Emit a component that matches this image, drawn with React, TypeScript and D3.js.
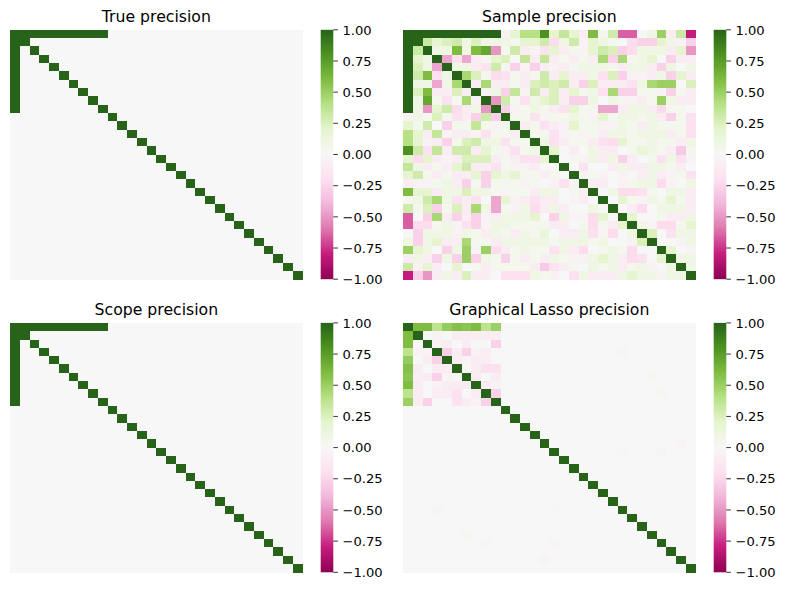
import React from "react";
import * as d3 from "d3";

const N = 30;

// matplotlib PiYG anchor colours, -1 .. 1
const PIYG = [
  "#8e0152", "#c51b7d", "#de77ae", "#f1b6da", "#fde0ef", "#f7f7f7",
  "#e6f5d0", "#b8e186", "#7fbc41", "#4d9221", "#276419",
];
const CBAR_TICKS = [-1, -0.75, -0.5, -0.25, 0, 0.25, 0.5, 0.75, 1];

// hub row (node 0 -> nodes 1..9)
const trueHub = [1, 1, 1, 1, 1, 1, 1, 1, 1];
const scopeHub = [1, 1, 1, 1, 1, 1, 1, 1, 1];
const lassoHub = [0.6, 0.6, 0.38, 0.52, 0.58, 0.55, 0.6, 0.38, 0.5];

// graphical lasso: lower triangle of the hub block, rows 2..9, cols 1..i-1
const lassoBlock = [
  [0],
  [-0.04, -0.04],
  [0, -0.1, -0.27],
  [-0.1, 0, -0.1, -0.1],
  [-0.1, -0.1, -0.27, -0.04, 0],
  [-0.1, 0, -0.04, -0.1, -0.1, -0.1],
  [-0.1, 0, -0.1, -0.1, -0.18, 0, -0.1],
  [-0.1, -0.27, 0, 0, -0.18, -0.1, -0.04, -0.27],
];
// graphical lasso: small leftover entries [row, col, value]
const lassoFaint: [number, number, number][] = [
  [3, 22, 0.03], [6, 25, 0.03], [8, 26, 0.03],
  [14, 28, -0.03], [15, 22, -0.02], [15, 26, -0.03],
];

// sample precision: lower triangle, rows 1..29, cols 0..i-1
const sampleLower = [
  [1],
  [1, 0.32],
  [1, 0.2, 0.1],
  [1, 0.25, 0.1, -0.45],
  [1, 0.3, 0.6, -0.18, 0.1],
  [1, 0.1, 0.1, -0.45, 0.1, 0.45],
  [1, 0.25, 0.6, -0.1, -0.1, 0.25, -0.1],
  [1, 0.1, 0.7, 0.05, -0.18, 0.05, 0.45, -0.04],
  [1, 0.1, -0.5, 0.2, 0.3, -0.22, -0.1, 0.1, -0.5],
  [-0.04, 0.1, 0.05, 0.25, 0.05, -0.18, -0.1, -0.27, 0.3, -0.27],
  [0.2, 0.05, 0.3, 0, -0.27, 0.05, 0.05, 0.35, 0.05, -0.04, 0.05],
  [0.4, 0.2, -0.1, 0.35, -0.04, -0.1, -0.1, -0.04, -0.18, 0.05, 0.05, -0.1],
  [0.4, 0.2, -0.04, -0.1, -0.27, 0.05, 0.25, 0.3, 0.1, 0.1, -0.18, 0.05, 0.05],
  [0.8, 0.3, -0.18, 0.35, -0.1, 0.3, 0.3, -0.1, 0.2, 0.05, -0.04, -0.18, 0.05, 0.1],
  [0.2, -0.22, 0.2, -0.1, -0.04, -0.1, 0.25, 0.25, 0.25, -0.1, 0.05, -0.1, -0.18, -0.18, 0.2],
  [0.35, 0.1, -0.1, 0.05, -0.1, 0.2, 0.3, -0.1, -0.1, -0.18, 0.05, -0.04, -0.04, -0.1, 0, 0],
  [0.2, 0.3, 0.05, -0.1, 0.05, -0.1, -0.1, 0.2, -0.27, 0.2, 0.1, 0.2, 0.05, 0.05, -0.1, 0.05, 0],
  [-0.1, -0.04, -0.04, 0.05, 0.1, -0.1, -0.27, 0.05, -0.27, 0.05, 0.05, 0.05, -0.04, 0.05, 0, -0.04, -0.18, -0.04],
  [0.6, 0.2, 0.2, -0.1, 0.1, 0.1, 0.25, 0.1, 0.1, 0.05, -0.04, 0.05, 0.05, -0.1, 0.1, 0.1, 0, 0.05, -0.1],
  [0.05, 0.1, 0.3, 0.45, 0.1, -0.18, -0.1, -0.18, 0, -0.45, 0.2, -0.04, -0.1, -0.18, -0.1, -0.1, 0, -0.04, -0.1, 0],
  [0.3, 0.05, 0.25, -0.27, 0.05, 0.25, -0.1, 0.45, 0.1, -0.45, 0.05, -0.04, 0.1, -0.22, -0.1, 0.1, -0.1, 0, 0, 0.1, 0],
  [-0.65, 0, -0.27, 0.45, -0.1, -0.27, -0.1, -0.27, -0.04, -0.1, 0.1, 0.1, 0.1, 0.2, 0, -0.27, 0.1, -0.04, -0.04, -0.22, 0.2, 0],
  [-0.65, -0.22, -0.22, 0.05, 0.1, -0.04, -0.18, -0.27, -0.04, 0.1, 0.1, 0.05, 0.05, 0.05, 0.05, -0.1, -0.1, 0, 0.05, -0.22, 0.05, -0.1, 0.2],
  [0, -0.27, 0.1, 0.1, 0.1, -0.04, 0.1, 0.05, -0.1, 0.1, 0.05, -0.1, 0.1, 0.05, 0.15, 0, -0.1, -0.1, 0.1, -0.18, -0.04, -0.22, 0, 0.1],
  [0.1, -0.27, 0.1, 0.2, -0.1, -0.1, 0.45, 0.05, 0.05, -0.1, 0.1, 0.1, 0.1, 0.1, 0.1, 0.05, 0.1, 0.1, 0.1, 0.05, 0.1, 0, 0, -0.04, 0.25],
  [0.5, 0.2, 0.1, 0, -0.27, 0.1, 0.5, -0.04, 0.5, -0.22, -0.1, 0.05, 0.1, 0.05, 0.05, -0.18, 0.1, -0.1, -0.22, 0, 0.05, 0.1, 0.05, -0.22, 0, 0],
  [-0.1, 0.1, -0.1, -0.27, 0.1, -0.27, 0.5, -0.27, 0.1, 0.05, -0.27, 0.05, -0.1, 0.05, -0.1, 0.1, 0.05, -0.04, -0.04, 0.1, 0.2, 0.1, -0.1, -0.22, -0.18, 0, 0.2],
  [0.32, -0.04, 0.2, -0.1, 0, 0.2, 0, 0.05, -0.1, 0.05, 0.05, 0.05, 0.05, -0.1, -0.3, -0.18, -0.1, 0.05, 0, 0.1, 0.05, 0.1, -0.1, 0.05, 0.1, -0.04, 0, 0.1],
  [-0.8, -0.27, -0.5, -0.1, 0.1, -0.1, 0.25, -0.1, -0.1, 0, -0.18, -0.18, -0.18, 0.1, 0.05, -0.04, 0, -0.18, 0.1, -0.1, -0.1, -0.1, 0.1, 0.2, 0.1, 0.1, -0.04, 0.1, 0.1],
];

function emptyWithDiag(): number[][] {
  const m = d3.range(N).map(() => new Array(N).fill(0));
  d3.range(N).forEach((i) => (m[i][i] = 1));
  return m;
}

function setSym(m: number[][], i: number, j: number, v: number) {
  m[i][j] = v;
  m[j][i] = v;
}

function fromLower(lower: number[][]): number[][] {
  const m = emptyWithDiag();
  lower.forEach((row, k) => row.forEach((v, j) => setSym(m, k + 1, j, v)));
  return m;
}

function hubMatrix(hub: number[], block: number[][] = [], faint: [number, number, number][] = []) {
  const m = emptyWithDiag();
  hub.forEach((v, k) => setSym(m, 0, k + 1, v));
  block.forEach((row, k) => row.forEach((v, j) => setSym(m, k + 2, j + 1, v)));
  faint.forEach(([i, j, v]) => setSym(m, i, j, v));
  return m;
}

const color = d3
  .scaleLinear<string>()
  .domain(d3.range(PIYG.length).map((i) => -1 + (2 * i) / (PIYG.length - 1)))
  .range(PIYG)
  .interpolate(d3.interpolateRgb)
  .clamp(true);

const W = 788;
const H = 590;
const HM_W = 292.7;
const HM_H = 249.4;
const CB_DX = 310.7;
const CB_W = 12.6;
const FONT = "DejaVu Sans, sans-serif";

const panels = [
  { title: "True precision", x: 10, y: 29.8, m: hubMatrix(trueHub) },
  { title: "Sample precision", x: 403, y: 29.8, m: fromLower(sampleLower) },
  { title: "Scope precision", x: 10, y: 322.9, m: hubMatrix(scopeHub) },
  { title: "Graphical Lasso precision", x: 403, y: 322.9, m: hubMatrix(lassoHub, lassoBlock, lassoFaint) },
];

function Heatmap({ title, x, y, m }: { title: string; x: number; y: number; m: number[][] }) {
  const xs = d3.scaleBand<number>().domain(d3.range(N)).range([0, HM_W]);
  const ys = d3.scaleBand<number>().domain(d3.range(N)).range([0, HM_H]);
  const cb = d3.scaleLinear().domain([-1, 1]).range([HM_H, 0]);
  const fmt = d3.format(".2f");

  return (
    <g transform={`translate(${x},${y})`}>
      <text x={HM_W / 2} y={-7.5} textAnchor="middle" fontSize={15.7} fontFamily={FONT} fill="#000">
        {title}
      </text>
      <g shapeRendering="crispEdges">
        {m.map((row, i) =>
          row.map((v, j) => (
            <rect
              key={`${i}-${j}`}
              x={xs(j)}
              y={ys(i)}
              width={xs.bandwidth() + 0.3}
              height={ys.bandwidth() + 0.3}
              fill={color(v)}
            />
          ))
        )}
      </g>

      {/* colorbar */}
      <g transform={`translate(${CB_DX},0)`}>
        <rect x={0} y={0} width={CB_W} height={HM_H} fill="url(#piyg-bar)" />
        {CBAR_TICKS.map((t) => (
          <g key={t} transform={`translate(${CB_W},${cb(t)})`}>
            <line x1={0} x2={4.6} stroke="#000" strokeWidth={0.8} />
            <text x={9.2} dy="0.36em" fontSize={13.1} fontFamily={FONT} fill="#000">
              {fmt(t)}
            </text>
          </g>
        ))}
      </g>
    </g>
  );
}

export default function App() {
  const stops = d3.range(0, 1.0001, 0.02);
  return (
    <div style={{ position: "absolute", left: 0, top: 0 }}>
      <svg width={W} height={H} style={{ display: "block" }}>
        <defs>
          <linearGradient id="piyg-bar" x1="0" y1="1" x2="0" y2="0">
            {stops.map((s) => (
              <stop key={s} offset={s} stopColor={color(-1 + 2 * s)} />
            ))}
          </linearGradient>
        </defs>
        <rect width={W} height={H} fill="#fff" />
        {panels.map((p) => (
          <Heatmap key={p.title} {...p} />
        ))}
      </svg>
    </div>
  );
}
